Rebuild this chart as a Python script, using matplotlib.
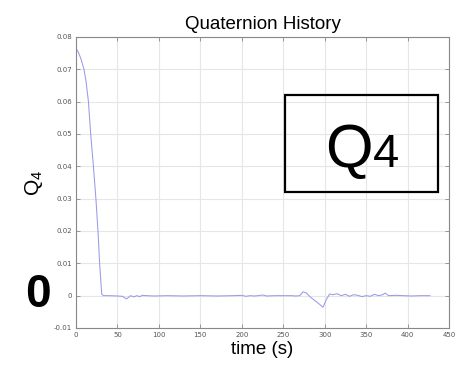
import numpy as np
import matplotlib
matplotlib.use('Agg')
import matplotlib.pyplot as plt
from matplotlib.patches import Rectangle

# quaternion component q4 over time
t = [0, 3, 6, 9.6, 12, 15, 17.7, 21, 24, 26.5, 28.5, 31, 33, 40, 50,
     56, 59, 61, 63, 66, 70, 73, 77, 80, 85, 95, 110, 130, 150, 170,
     190, 200, 205, 210, 215, 220, 225, 230, 240, 250, 260, 265, 270, 274,
     278, 283, 288, 293, 298, 302, 306, 310, 315, 320, 325, 330, 335, 340,
     345, 350, 355, 360, 365, 370, 373, 377, 385, 395, 405, 415, 427]
q4_milli = [76.5, 75.2, 73.2, 70.0, 66.5, 60.0, 50.0, 40.0, 30.0, 20.0, 10.0, 0.5, 0.0, 0.0, -0.1,
            -0.2, -0.7, -1.0, -0.6, 0.0, -0.4, 0.0, -0.3, 0.1, 0.0, -0.1, 0.0, -0.1, 0.0, -0.1,
            0.0, 0.1, -0.2, 0.0, -0.1, 0.0, 0.2, -0.1, 0.0, 0.0, 0.0, -0.1, 0.0, 1.2,
            0.8, -0.5, -1.5, -2.5, -3.6, -1.2, 0.5, 0.3, 0.6, 0.0, 0.4, -0.2, 0.3, 0.1,
            -0.3, 0.0, -0.2, 0.4, 0.0, 0.3, 0.8, 0.0, 0.1, 0.0, -0.1, 0.0, 0.0]
q4 = np.array(q4_milli) / 1000.0

xticks = np.arange(0, 451, 50)
yticks = np.arange(-0.01, 0.0801, 0.01)
ytick_labels = ['-0.01', '0', '0.01', '0.02', '0.03', '0.04', '0.05', '0.06', '0.07', '0.08']

plt.rcParams['font.family'] = ['Liberation Sans', 'DejaVu Sans']

fig = plt.figure(figsize=(4.64, 3.65), dpi=100)
ax = fig.add_axes([0.1638, 0.1014, 0.8039, 0.7973])

ax.plot(t, q4, color='#9a9ae8', lw=0.75)

ax.set_xlim(0, 450)
ax.set_ylim(-0.01, 0.08)
ax.set_xticks(xticks)
ax.set_xticklabels([str(v) for v in xticks], fontsize=5, family='DejaVu Sans', color='#555555')
ax.set_yticks(yticks)
ax.set_yticklabels(ytick_labels, fontsize=5, family='DejaVu Sans', color='#555555')
ax.tick_params(direction='in', length=3, width=0.5, color='#777777', top=True, right=True, pad=3)
ax.grid(True, color='#e6e6e6', lw=0.8)
for s in ax.spines.values():
    s.set_color('#888888')
    s.set_linewidth(0.8)

ax.set_title('Quaternion History', fontsize=13.5, pad=6)
ax.set_xlabel('time (s)', fontsize=13.5, labelpad=2)
ax.set_ylabel('$\\mathregular{Q_4}$', fontsize=15, labelpad=6)

# boxed label in the upper right
fig.patches.append(Rectangle((0.614, 0.474), 0.330, 0.266, transform=fig.transFigure,
                             fill=False, edgecolor='black', lw=1.6))
fig.text(325 / 464, 1 - 167 / 365, 'Q', fontsize=44, ha='left', va='baseline')
fig.text(373 / 464, 1 - 167 / 365, '4', fontsize=34, ha='left', va='baseline')

fig.text(37.5 / 464, 1 - 295 / 365, '0', fontsize=33, fontweight='bold', ha='center', va='center')

fig.savefig('out.png', dpi=100)
